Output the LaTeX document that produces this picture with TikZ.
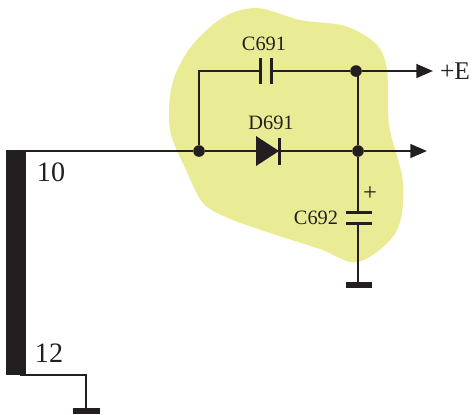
\documentclass[tikz,border=0pt]{standalone}
\usepackage{fontspec}
\setmainfont{Liberation Serif}
\usetikzlibrary{arrows.meta}
\definecolor{ink}{HTML}{231F20}
\definecolor{blob}{HTML}{E9EC94}
\tikzset{
  wire/.style={draw=ink, line width=1.4pt},
  plate/.style={draw=ink, line width=1.7pt},
  earth/.style={draw=ink, line width=2.9pt},
  output/.style={wire, -{Triangle[length=9.5pt, width=7.8pt]}},
  junction/.style={circle, fill=ink, inner sep=0pt, minimum size=6.6pt},
  small/.style={text=ink, font=\fontsize{11.6}{12}\selectfont, inner sep=0pt},
  pin/.style={text=ink, font=\fontsize{16}{16}\selectfont, inner sep=0pt},
}

\begin{document}
\begin{tikzpicture}[x=0.02cm, y=-0.02cm]
\useasboundingbox (0,0) rectangle (472,414);
% shaded area
\fill[blob] plot[smooth cycle, tension=0.55] coordinates {(257,8) (300,20) (345,26) (376,44) (387,70) (389,125) (403,183) (396,232) (358,262) (320,249) (270,233) (228,218) (203,203) (186,170) (170,130) (172,85) (190,48) (222,18)};
% winding
\fill[ink] (6,150) rectangle (26,375);
% points on the wires
\node[junction] (left) at (199,151) {};
\node[junction] (top) at (356,71) {};
\node[junction] (mid) at (358,151) {};
\coordinate (start) at (6,151);
\coordinate (corner) at (199,71);
\coordinate (capl) at (260,71);
\coordinate (capr) at (271,71);
\coordinate (anode) at (257,151);
\coordinate (cathode) at (279,151);
\coordinate (outtop) at (433,71);
\coordinate (outmid) at (427,151);
\coordinate (captop) at (358,212);
\coordinate (capbot) at (358,223);
\coordinate (gnda) at (358,285);
\coordinate (foot) at (20,375);
\coordinate (bend) at (86,375);
\coordinate (gndb) at (86,411);
% wires
\draw[wire] (start) -- (left);
\draw[wire] (left) -- (anode);
\draw[wire] (cathode) -- (mid);
\draw[output] (mid) -- (outmid);
\draw[wire] (left) -- (corner) -- (capl);
\draw[wire] (capr) -- (top);
\draw[output] (top) -- (outtop);
\draw[wire] (top.center) -- (358,71) -- (mid);
\draw[wire] (mid) -- (captop);
\draw[wire] (capbot) -- (gnda);
\draw[wire] (foot) -- (bend) -- (gndb);
% C691
\draw[plate] (260,58) -- (260,84);
\draw[plate] (271,58) -- (271,84);
% D691
\fill[ink] (256,136) -- (279,151) -- (256,166) -- cycle;
\draw[plate] (279,138) -- (279,165);
% C692
\draw[plate] (346,212) -- (372,212);
\draw[plate] (346,223) -- (372,223);
% grounds
\draw[earth] (346,285) -- (372,285);
\draw[earth] (73,411) -- (100,411);
% labels
\node[small] (c691) at (264,44) {C691};
\node[small] (d691) at (271,123) {D691};
\node[small] (c692) at (316,218) {C692};
\node[small, font=\fontsize{14}{14}\selectfont] (plus) at (370,194) {+};
\node[pin, font=\fontsize{14.5}{15}\selectfont] (e) at (455,71) {+E};
\node[pin] (ten) at (51,172) {10};
\node[pin] (twelve) at (49,353) {12};
\end{tikzpicture}
\end{document}
